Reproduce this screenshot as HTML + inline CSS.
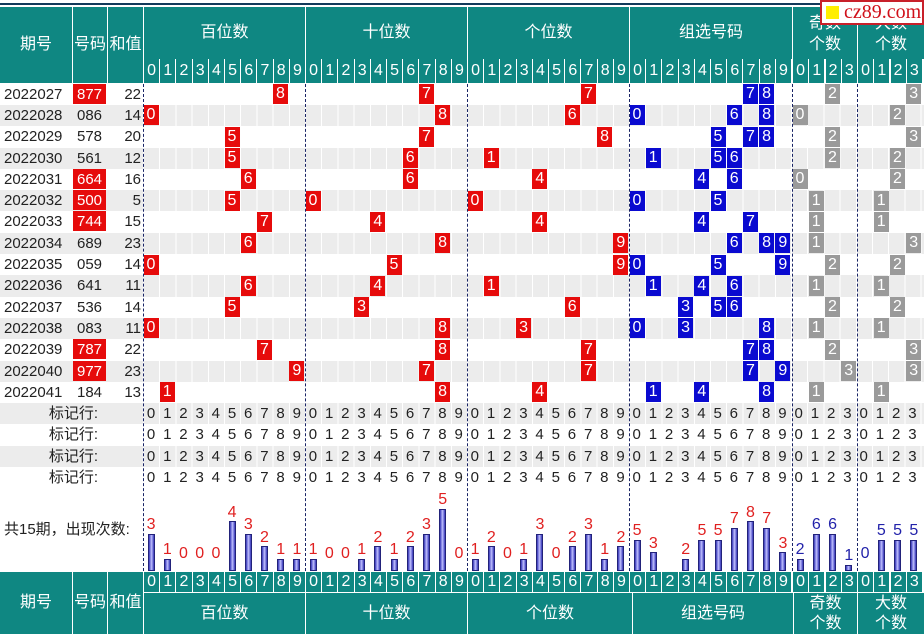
<!DOCTYPE html>
<html><head><meta charset="utf-8"><style>
*{margin:0;padding:0;box-sizing:border-box}
body{width:924px;height:638px;position:relative;overflow:hidden;background:#fff;font-family:"Liberation Sans","Noto Sans CJK SC",sans-serif;font-size:15px;color:#222}
.a{position:absolute}
.t{position:absolute;background:#0f8782;color:#fff;text-align:center}
.hd{position:absolute;top:59px;height:24px;line-height:24px;width:16.2px;text-align:center;color:#fff;font-size:16px;border-left:1px solid #fff;background:#0f8782}
.bd{position:absolute;top:572px;height:20px;line-height:20px;width:16.2px;text-align:center;color:#fff;font-size:16px;border-left:1px solid #fff;background:#0f8782}
.row{position:absolute;left:0;width:924px;height:21.3px}
.g{background:#ececec}
.g .cells{position:absolute;left:143px;top:0;width:781px;height:21.3px;background:repeating-linear-gradient(to right,#fff 0,#fff 1px,#ececec 1px,#ececec 16.2px)}
.row .p{position:absolute;left:4px;top:0;line-height:21px}
.row .n{position:absolute;left:73px;width:33px;top:0;height:20px;line-height:21px;text-align:center}
.row .n.r{background:#e60b0b;color:#fff}
.row .s{position:absolute;left:107px;width:34px;text-align:right;line-height:21px}
.r1,.b1,.k1{position:absolute;top:0.5px;width:15px;height:20px;line-height:20px;text-align:center;color:#fff;font-size:16px}
.r1{background:#e60b0b}.b1{background:#0a0ad0}.k1{background:#9a9a9a}
.m{position:absolute;width:16.2px;text-align:center;line-height:21px}
.ml{position:absolute;left:0;width:98px;text-align:right;line-height:21px}
.dl{position:absolute;top:84px;height:487px;border-left:1px dashed #1a2566}
.bar{position:absolute;bottom:0;width:7px;border:1px solid #22227a;background:linear-gradient(to right,#3434b8,#c0c0ff,#3434b8)}
.lb{position:absolute;width:16.2px;text-align:center;line-height:16px;font-size:16px;color:#e02020}
.lb.bl{color:#2222aa}
</style></head><body>
<div class="a" style="left:0;top:3px;width:924px;height:2px;background:#123a5a"></div>
<!-- top header -->
<div class="t" style="left:0;top:7px;width:72px;height:76px;line-height:76px;font-size:16px">期号</div>
<div class="t" style="left:73px;top:7px;width:34px;height:76px;line-height:76px;font-size:16px">号码</div>
<div class="t" style="left:108px;top:7px;width:35px;height:76px;line-height:76px;font-size:16px">和值</div>
<div class="t" style="left:144px;top:7px;width:161px;height:52px;line-height:52px;font-size:16px">百位数</div>
<div class="t" style="left:306px;top:7px;width:161px;height:52px;line-height:52px;font-size:16px">十位数</div>
<div class="t" style="left:468px;top:7px;width:161px;height:52px;line-height:52px;font-size:16px">个位数</div>
<div class="t" style="left:630px;top:7px;width:162px;height:52px;line-height:52px;font-size:16px">组选号码</div>
<div class="t" style="left:793px;top:7px;width:64px;height:52px;padding-top:6px;line-height:21px;font-size:16px">奇数<br>个数</div>
<div class="t" style="left:858px;top:7px;width:66px;height:52px;padding-top:6px;line-height:21px;font-size:16px">大数<br>个数</div>
<div class="hd" style="left:143px">0</div><div class="hd" style="left:159.2px">1</div><div class="hd" style="left:175.4px">2</div><div class="hd" style="left:191.6px">3</div><div class="hd" style="left:207.8px">4</div><div class="hd" style="left:224px">5</div><div class="hd" style="left:240.2px">6</div><div class="hd" style="left:256.4px">7</div><div class="hd" style="left:272.6px">8</div><div class="hd" style="left:288.8px">9</div>
<div class="hd" style="left:305px">0</div><div class="hd" style="left:321.2px">1</div><div class="hd" style="left:337.4px">2</div><div class="hd" style="left:353.6px">3</div><div class="hd" style="left:369.8px">4</div><div class="hd" style="left:386px">5</div><div class="hd" style="left:402.2px">6</div><div class="hd" style="left:418.4px">7</div><div class="hd" style="left:434.6px">8</div><div class="hd" style="left:450.8px">9</div>
<div class="hd" style="left:467px">0</div><div class="hd" style="left:483.2px">1</div><div class="hd" style="left:499.4px">2</div><div class="hd" style="left:515.6px">3</div><div class="hd" style="left:531.8px">4</div><div class="hd" style="left:548px">5</div><div class="hd" style="left:564.2px">6</div><div class="hd" style="left:580.4px">7</div><div class="hd" style="left:596.6px">8</div><div class="hd" style="left:612.8px">9</div>
<div class="hd" style="left:629px">0</div><div class="hd" style="left:645.2px">1</div><div class="hd" style="left:661.4px">2</div><div class="hd" style="left:677.6px">3</div><div class="hd" style="left:693.8px">4</div><div class="hd" style="left:710px">5</div><div class="hd" style="left:726.2px">6</div><div class="hd" style="left:742.4px">7</div><div class="hd" style="left:758.6px">8</div><div class="hd" style="left:774.8px">9</div>
<div class="hd" style="left:792px">0</div><div class="hd" style="left:808.25px">1</div><div class="hd" style="left:824.5px">2</div><div class="hd" style="left:840.75px">3</div>
<div class="hd" style="left:857px">0</div><div class="hd" style="left:873.25px">1</div><div class="hd" style="left:889.5px">2</div><div class="hd" style="left:905.75px">3</div>

<!-- data rows -->
<div class="row" style="top:83.6px"><span class="p">2022027</span><span class="n r">877</span><span class="s">22</span>
<span class="r1" style="left:273px">8</span><span class="r1" style="left:418.9px">7</span><span class="r1" style="left:580.9px">7</span><span class="b1" style="left:742.9px">7</span><span class="b1" style="left:759.1px">8</span><span class="k1" style="left:825px">2</span><span class="k1" style="left:906.2px">3</span></div>
<div class="row g" style="top:104.9px"><div class="cells"></div><span class="p">2022028</span><span class="n">086</span><span class="s">14</span>
<span class="r1" style="left:143.5px">0</span><span class="r1" style="left:435.1px">8</span><span class="r1" style="left:564.7px">6</span><span class="b1" style="left:629.5px">0</span><span class="b1" style="left:726.7px">6</span><span class="b1" style="left:759.1px">8</span><span class="k1" style="left:792.5px">0</span><span class="k1" style="left:890px">2</span></div>
<div class="row" style="top:126.2px"><span class="p">2022029</span><span class="n">578</span><span class="s">20</span>
<span class="r1" style="left:224.5px">5</span><span class="r1" style="left:418.9px">7</span><span class="r1" style="left:597.1px">8</span><span class="b1" style="left:710.5px">5</span><span class="b1" style="left:742.9px">7</span><span class="b1" style="left:759.1px">8</span><span class="k1" style="left:825px">2</span><span class="k1" style="left:906.2px">3</span></div>
<div class="row g" style="top:147.5px"><div class="cells"></div><span class="p">2022030</span><span class="n">561</span><span class="s">12</span>
<span class="r1" style="left:224.5px">5</span><span class="r1" style="left:402.7px">6</span><span class="r1" style="left:483.7px">1</span><span class="b1" style="left:645.7px">1</span><span class="b1" style="left:710.5px">5</span><span class="b1" style="left:726.7px">6</span><span class="k1" style="left:825px">2</span><span class="k1" style="left:890px">2</span></div>
<div class="row" style="top:168.8px"><span class="p">2022031</span><span class="n r">664</span><span class="s">16</span>
<span class="r1" style="left:240.7px">6</span><span class="r1" style="left:402.7px">6</span><span class="r1" style="left:532.3px">4</span><span class="b1" style="left:694.3px">4</span><span class="b1" style="left:726.7px">6</span><span class="k1" style="left:792.5px">0</span><span class="k1" style="left:890px">2</span></div>
<div class="row g" style="top:190.1px"><div class="cells"></div><span class="p">2022032</span><span class="n r">500</span><span class="s">5</span>
<span class="r1" style="left:224.5px">5</span><span class="r1" style="left:305.5px">0</span><span class="r1" style="left:467.5px">0</span><span class="b1" style="left:629.5px">0</span><span class="b1" style="left:710.5px">5</span><span class="k1" style="left:808.7px">1</span><span class="k1" style="left:873.7px">1</span></div>
<div class="row" style="top:211.4px"><span class="p">2022033</span><span class="n r">744</span><span class="s">15</span>
<span class="r1" style="left:256.9px">7</span><span class="r1" style="left:370.3px">4</span><span class="r1" style="left:532.3px">4</span><span class="b1" style="left:694.3px">4</span><span class="b1" style="left:742.9px">7</span><span class="k1" style="left:808.7px">1</span><span class="k1" style="left:873.7px">1</span></div>
<div class="row g" style="top:232.7px"><div class="cells"></div><span class="p">2022034</span><span class="n">689</span><span class="s">23</span>
<span class="r1" style="left:240.7px">6</span><span class="r1" style="left:435.1px">8</span><span class="r1" style="left:613.3px">9</span><span class="b1" style="left:726.7px">6</span><span class="b1" style="left:759.1px">8</span><span class="b1" style="left:775.3px">9</span><span class="k1" style="left:808.7px">1</span><span class="k1" style="left:906.2px">3</span></div>
<div class="row" style="top:254px"><span class="p">2022035</span><span class="n">059</span><span class="s">14</span>
<span class="r1" style="left:143.5px">0</span><span class="r1" style="left:386.5px">5</span><span class="r1" style="left:613.3px">9</span><span class="b1" style="left:629.5px">0</span><span class="b1" style="left:710.5px">5</span><span class="b1" style="left:775.3px">9</span><span class="k1" style="left:825px">2</span><span class="k1" style="left:890px">2</span></div>
<div class="row g" style="top:275.3px"><div class="cells"></div><span class="p">2022036</span><span class="n">641</span><span class="s">11</span>
<span class="r1" style="left:240.7px">6</span><span class="r1" style="left:370.3px">4</span><span class="r1" style="left:483.7px">1</span><span class="b1" style="left:645.7px">1</span><span class="b1" style="left:694.3px">4</span><span class="b1" style="left:726.7px">6</span><span class="k1" style="left:808.7px">1</span><span class="k1" style="left:873.7px">1</span></div>
<div class="row" style="top:296.6px"><span class="p">2022037</span><span class="n">536</span><span class="s">14</span>
<span class="r1" style="left:224.5px">5</span><span class="r1" style="left:354.1px">3</span><span class="r1" style="left:564.7px">6</span><span class="b1" style="left:678.1px">3</span><span class="b1" style="left:710.5px">5</span><span class="b1" style="left:726.7px">6</span><span class="k1" style="left:825px">2</span><span class="k1" style="left:890px">2</span></div>
<div class="row g" style="top:317.9px"><div class="cells"></div><span class="p">2022038</span><span class="n">083</span><span class="s">11</span>
<span class="r1" style="left:143.5px">0</span><span class="r1" style="left:435.1px">8</span><span class="r1" style="left:516.1px">3</span><span class="b1" style="left:629.5px">0</span><span class="b1" style="left:678.1px">3</span><span class="b1" style="left:759.1px">8</span><span class="k1" style="left:808.7px">1</span><span class="k1" style="left:873.7px">1</span></div>
<div class="row" style="top:339.2px"><span class="p">2022039</span><span class="n r">787</span><span class="s">22</span>
<span class="r1" style="left:256.9px">7</span><span class="r1" style="left:435.1px">8</span><span class="r1" style="left:580.9px">7</span><span class="b1" style="left:742.9px">7</span><span class="b1" style="left:759.1px">8</span><span class="k1" style="left:825px">2</span><span class="k1" style="left:906.2px">3</span></div>
<div class="row g" style="top:360.5px"><div class="cells"></div><span class="p">2022040</span><span class="n r">977</span><span class="s">23</span>
<span class="r1" style="left:289.3px">9</span><span class="r1" style="left:418.9px">7</span><span class="r1" style="left:580.9px">7</span><span class="b1" style="left:742.9px">7</span><span class="b1" style="left:775.3px">9</span><span class="k1" style="left:841.2px">3</span><span class="k1" style="left:906.2px">3</span></div>
<div class="row" style="top:381.8px"><span class="p">2022041</span><span class="n">184</span><span class="s">13</span>
<span class="r1" style="left:159.7px">1</span><span class="r1" style="left:435.1px">8</span><span class="r1" style="left:532.3px">4</span><span class="b1" style="left:645.7px">1</span><span class="b1" style="left:694.3px">4</span><span class="b1" style="left:759.1px">8</span><span class="k1" style="left:808.7px">1</span><span class="k1" style="left:873.7px">1</span></div>

<!-- mark rows -->
<div class="row g" style="top:403.1px"><div class="cells"></div><span class="ml">标记行:</span>
<div class="a" style="left:143px;top:0;width:781px;line-height:21px;letter-spacing:0;word-spacing:0"></div></div>
<div class="row" style="top:424.4px"><span class="ml">标记行:</span></div>
<div class="row g" style="top:445.7px"><div class="cells"></div><span class="ml">标记行:</span></div>
<div class="row" style="top:467px"><span class="ml">标记行:</span></div>
<div class="a" style="left:0;top:403.1px;width:924px;height:85.2px;line-height:21.3px">
<div class="a" style="left:143px;top:0;width:781px;display:grid;grid-template-columns:repeat(10,16.2px) repeat(10,16.2px) repeat(10,16.2px) repeat(10,16.2px) repeat(8,16.25px);text-align:center">
<span>0</span><span>1</span><span>2</span><span>3</span><span>4</span><span>5</span><span>6</span><span>7</span><span>8</span><span>9</span><span>0</span><span>1</span><span>2</span><span>3</span><span>4</span><span>5</span><span>6</span><span>7</span><span>8</span><span>9</span><span>0</span><span>1</span><span>2</span><span>3</span><span>4</span><span>5</span><span>6</span><span>7</span><span>8</span><span>9</span><span>0</span><span>1</span><span>2</span><span>3</span><span>4</span><span>5</span><span>6</span><span>7</span><span>8</span><span>9</span><span>0</span><span>1</span><span>2</span><span>3</span><span>0</span><span>1</span><span>2</span><span>3</span>
<span>0</span><span>1</span><span>2</span><span>3</span><span>4</span><span>5</span><span>6</span><span>7</span><span>8</span><span>9</span><span>0</span><span>1</span><span>2</span><span>3</span><span>4</span><span>5</span><span>6</span><span>7</span><span>8</span><span>9</span><span>0</span><span>1</span><span>2</span><span>3</span><span>4</span><span>5</span><span>6</span><span>7</span><span>8</span><span>9</span><span>0</span><span>1</span><span>2</span><span>3</span><span>4</span><span>5</span><span>6</span><span>7</span><span>8</span><span>9</span><span>0</span><span>1</span><span>2</span><span>3</span><span>0</span><span>1</span><span>2</span><span>3</span>
<span>0</span><span>1</span><span>2</span><span>3</span><span>4</span><span>5</span><span>6</span><span>7</span><span>8</span><span>9</span><span>0</span><span>1</span><span>2</span><span>3</span><span>4</span><span>5</span><span>6</span><span>7</span><span>8</span><span>9</span><span>0</span><span>1</span><span>2</span><span>3</span><span>4</span><span>5</span><span>6</span><span>7</span><span>8</span><span>9</span><span>0</span><span>1</span><span>2</span><span>3</span><span>4</span><span>5</span><span>6</span><span>7</span><span>8</span><span>9</span><span>0</span><span>1</span><span>2</span><span>3</span><span>0</span><span>1</span><span>2</span><span>3</span>
<span>0</span><span>1</span><span>2</span><span>3</span><span>4</span><span>5</span><span>6</span><span>7</span><span>8</span><span>9</span><span>0</span><span>1</span><span>2</span><span>3</span><span>4</span><span>5</span><span>6</span><span>7</span><span>8</span><span>9</span><span>0</span><span>1</span><span>2</span><span>3</span><span>4</span><span>5</span><span>6</span><span>7</span><span>8</span><span>9</span><span>0</span><span>1</span><span>2</span><span>3</span><span>4</span><span>5</span><span>6</span><span>7</span><span>8</span><span>9</span><span>0</span><span>1</span><span>2</span><span>3</span><span>0</span><span>1</span><span>2</span><span>3</span>
</div></div>

<!-- dashed separators -->
<div class="dl" style="left:143px"></div><div class="dl" style="left:305px"></div><div class="dl" style="left:467px"></div><div class="dl" style="left:629px"></div><div class="dl" style="left:792px"></div><div class="dl" style="left:857px"></div>

<!-- bar chart -->
<div class="a" style="left:4px;top:520px;line-height:20px">共15期，出现次数:</div>
<div class="a" style="left:0;top:488px;width:924px;height:83px">
<!-- 百 -->
<div class="bar" style="left:147.5px;height:37.2px"></div><div class="lb" style="left:143px;bottom:38px">3</div>
<div class="bar" style="left:163.7px;height:12.4px"></div><div class="lb" style="left:159.2px;bottom:13px">1</div>
<div class="lb" style="left:175.4px;bottom:9px">0</div><div class="lb" style="left:191.6px;bottom:9px">0</div><div class="lb" style="left:207.8px;bottom:9px">0</div>
<div class="bar" style="left:228.5px;height:49.6px"></div><div class="lb" style="left:224px;bottom:50px">4</div>
<div class="bar" style="left:244.7px;height:37.2px"></div><div class="lb" style="left:240.2px;bottom:38px">3</div>
<div class="bar" style="left:260.9px;height:24.8px"></div><div class="lb" style="left:256.4px;bottom:25px">2</div>
<div class="bar" style="left:277.1px;height:12.4px"></div><div class="lb" style="left:272.6px;bottom:13px">1</div>
<div class="bar" style="left:293.3px;height:12.4px"></div><div class="lb" style="left:288.8px;bottom:13px">1</div>
<!-- 十 -->
<div class="bar" style="left:309.5px;height:12.4px"></div><div class="lb" style="left:305px;bottom:13px">1</div>
<div class="lb" style="left:321.2px;bottom:9px">0</div><div class="lb" style="left:337.4px;bottom:9px">0</div>
<div class="bar" style="left:358.1px;height:12.4px"></div><div class="lb" style="left:353.6px;bottom:13px">1</div>
<div class="bar" style="left:374.3px;height:24.8px"></div><div class="lb" style="left:369.8px;bottom:25px">2</div>
<div class="bar" style="left:390.5px;height:12.4px"></div><div class="lb" style="left:386px;bottom:13px">1</div>
<div class="bar" style="left:406.7px;height:24.8px"></div><div class="lb" style="left:402.2px;bottom:25px">2</div>
<div class="bar" style="left:422.9px;height:37.2px"></div><div class="lb" style="left:418.4px;bottom:38px">3</div>
<div class="bar" style="left:439.1px;height:62px"></div><div class="lb" style="left:434.6px;bottom:63px">5</div>
<div class="lb" style="left:450.8px;bottom:9px">0</div>
<!-- 个 -->
<div class="bar" style="left:471.5px;height:12.4px"></div><div class="lb" style="left:467px;bottom:13px">1</div>
<div class="bar" style="left:487.7px;height:24.8px"></div><div class="lb" style="left:483.2px;bottom:25px">2</div>
<div class="lb" style="left:499.4px;bottom:9px">0</div>
<div class="bar" style="left:520.1px;height:12.4px"></div><div class="lb" style="left:515.6px;bottom:13px">1</div>
<div class="bar" style="left:536.3px;height:37.2px"></div><div class="lb" style="left:531.8px;bottom:38px">3</div>
<div class="lb" style="left:548px;bottom:9px">0</div>
<div class="bar" style="left:568.7px;height:24.8px"></div><div class="lb" style="left:564.2px;bottom:25px">2</div>
<div class="bar" style="left:584.9px;height:37.2px"></div><div class="lb" style="left:580.4px;bottom:38px">3</div>
<div class="bar" style="left:601.1px;height:12.4px"></div><div class="lb" style="left:596.6px;bottom:13px">1</div>
<div class="bar" style="left:617.3px;height:24.8px"></div><div class="lb" style="left:612.8px;bottom:25px">2</div>
<!-- 组选 -->
<div class="bar" style="left:633.5px;height:31px"></div><div class="lb" style="left:629px;bottom:32px">5</div>
<div class="bar" style="left:649.7px;height:18.6px"></div><div class="lb" style="left:645.2px;bottom:19px">3</div>
<div class="bar" style="left:682.1px;height:12.4px"></div><div class="lb" style="left:677.6px;bottom:13px">2</div>
<div class="bar" style="left:698.3px;height:31px"></div><div class="lb" style="left:693.8px;bottom:32px">5</div>
<div class="bar" style="left:714.5px;height:31px"></div><div class="lb" style="left:710px;bottom:32px">5</div>
<div class="bar" style="left:730.7px;height:43.4px"></div><div class="lb" style="left:726.2px;bottom:44px">7</div>
<div class="bar" style="left:746.9px;height:49.6px"></div><div class="lb" style="left:742.4px;bottom:50px">8</div>
<div class="bar" style="left:763.1px;height:43.4px"></div><div class="lb" style="left:758.6px;bottom:44px">7</div>
<div class="bar" style="left:779.3px;height:18.6px"></div><div class="lb" style="left:774.8px;bottom:19px">3</div>
<!-- 奇 -->
<div class="bar" style="left:796.5px;height:12.4px"></div><div class="lb bl" style="left:792px;bottom:13px">2</div>
<div class="bar" style="left:812.75px;height:37.2px"></div><div class="lb bl" style="left:808.25px;bottom:38px">6</div>
<div class="bar" style="left:829px;height:37.2px"></div><div class="lb bl" style="left:824.5px;bottom:38px">6</div>
<div class="bar" style="left:845.25px;height:6.2px"></div><div class="lb bl" style="left:840.75px;bottom:7px">1</div>
<!-- 大 -->
<div class="lb bl" style="left:857px;bottom:9px">0</div>
<div class="bar" style="left:877.75px;height:31px"></div><div class="lb bl" style="left:873.25px;bottom:32px">5</div>
<div class="bar" style="left:894px;height:31px"></div><div class="lb bl" style="left:889.5px;bottom:32px">5</div>
<div class="bar" style="left:910.25px;height:31px"></div><div class="lb bl" style="left:905.75px;bottom:32px">5</div>
</div>

<!-- bottom header -->
<div class="bd" style="left:143px">0</div><div class="bd" style="left:159.2px">1</div><div class="bd" style="left:175.4px">2</div><div class="bd" style="left:191.6px">3</div><div class="bd" style="left:207.8px">4</div><div class="bd" style="left:224px">5</div><div class="bd" style="left:240.2px">6</div><div class="bd" style="left:256.4px">7</div><div class="bd" style="left:272.6px">8</div><div class="bd" style="left:288.8px">9</div>
<div class="bd" style="left:305px">0</div><div class="bd" style="left:321.2px">1</div><div class="bd" style="left:337.4px">2</div><div class="bd" style="left:353.6px">3</div><div class="bd" style="left:369.8px">4</div><div class="bd" style="left:386px">5</div><div class="bd" style="left:402.2px">6</div><div class="bd" style="left:418.4px">7</div><div class="bd" style="left:434.6px">8</div><div class="bd" style="left:450.8px">9</div>
<div class="bd" style="left:467px">0</div><div class="bd" style="left:483.2px">1</div><div class="bd" style="left:499.4px">2</div><div class="bd" style="left:515.6px">3</div><div class="bd" style="left:531.8px">4</div><div class="bd" style="left:548px">5</div><div class="bd" style="left:564.2px">6</div><div class="bd" style="left:580.4px">7</div><div class="bd" style="left:596.6px">8</div><div class="bd" style="left:612.8px">9</div>
<div class="bd" style="left:629px">0</div><div class="bd" style="left:645.2px">1</div><div class="bd" style="left:661.4px">2</div><div class="bd" style="left:677.6px">3</div><div class="bd" style="left:693.8px">4</div><div class="bd" style="left:710px">5</div><div class="bd" style="left:726.2px">6</div><div class="bd" style="left:742.4px">7</div><div class="bd" style="left:758.6px">8</div><div class="bd" style="left:774.8px">9</div>
<div class="bd" style="left:792px">0</div><div class="bd" style="left:808.25px">1</div><div class="bd" style="left:824.5px">2</div><div class="bd" style="left:840.75px">3</div>
<div class="bd" style="left:857px">0</div><div class="bd" style="left:873.25px">1</div><div class="bd" style="left:889.5px">2</div><div class="bd" style="left:905.75px">3</div>
<div class="t" style="left:0;top:572px;width:72px;height:62px;line-height:62px;font-size:16px">期号</div>
<div class="t" style="left:73px;top:572px;width:34px;height:62px;line-height:62px;font-size:16px">号码</div>
<div class="t" style="left:108px;top:572px;width:35px;height:62px;line-height:62px;font-size:16px">和值</div>
<div class="t" style="left:144px;top:593px;width:161px;height:41px;line-height:41px;font-size:16px">百位数</div>
<div class="t" style="left:306px;top:593px;width:161px;height:41px;line-height:41px;font-size:16px">十位数</div>
<div class="t" style="left:468px;top:593px;width:164px;height:41px;line-height:41px;font-size:16px">个位数</div>
<div class="t" style="left:633px;top:593px;width:160px;height:41px;line-height:41px;font-size:16px">组选号码</div>
<div class="t" style="left:794px;top:593px;width:63px;height:41px;line-height:20px;padding-top:1px;font-size:16px">奇数<br>个数</div>
<div class="t" style="left:858px;top:593px;width:66px;height:41px;line-height:20px;padding-top:1px;font-size:16px">大数<br>个数</div>

<!-- watermark -->
<div class="a" style="left:820px;top:0;width:104px;height:25px;background:#fff;border:2px solid #c8202a;color:#d0101a;font-family:'Liberation Serif',serif;font-size:20px;line-height:21px;padding-left:22px">cz89.com</div>
<div class="a" style="left:826px;top:6px;width:13px;height:13px;background:#ffee00"></div>
</body></html>
